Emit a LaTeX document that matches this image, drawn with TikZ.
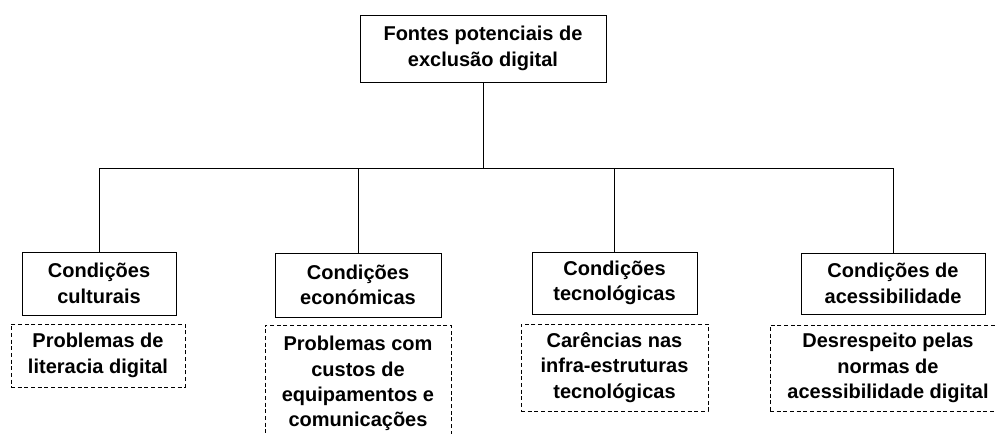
\documentclass[tikz,border=0pt]{standalone}
\usepackage{fontspec}
\setmainfont{Liberation Sans}
\begin{document}
\begin{tikzpicture}[x=0.75pt,y=-0.75pt,
  caixa/.style={draw, line width=0.75pt, align=center, inner sep=0pt,
    font=\bfseries\fontsize{15}{19}\selectfont},
  tracejada/.style={caixa, dash pattern=on 3pt off 2pt}]
  \useasboundingbox (0,0) rectangle (996,433);

  % Topo
  \node[caixa, minimum width=184.5pt, minimum height=50.25pt] (fontes) at (483,48.5)
    {Fontes potenciais de\\exclusão digital};

  % Condições
  \node[caixa, minimum width=115.5pt, minimum height=47.25pt] (cult) at (99,283.5)
    {Condições\\culturais};
  \node[caixa, minimum width=124.5pt, minimum height=48pt] (econ) at (358,285)
    {Condições\\económicas};
  \node[caixa, minimum width=123.75pt, minimum height=46.5pt] (tecn) at (614.5,283)
    {Condições\\tecnológicas};
  \node[caixa, minimum width=138pt, minimum height=45.75pt] (aces) at (893,283.5)
    {Condições de\\acessibilidade};

  % Problemas
  \node[tracejada, minimum width=130.5pt, minimum height=47.25pt] (pcult) at (98,355.5)
    {Problemas de\\literacia digital};
  \node[tracejada, minimum width=139.5pt, minimum height=87.75pt] (pecon) at (358,383.5)
    {Problemas com\\custos de\\equipamentos e\\comunicações};
  \node[tracejada, minimum width=140.25pt, minimum height=65.25pt] (ptecn) at (614.5,367.5)
    {Carências nas\\infra-estruturas\\tecnológicas};
  \node[tracejada, minimum width=177pt, minimum height=64.5pt] (paces) at (888,368)
    {Desrespeito pelas\\normas de\\acessibilidade digital};

  % Ligações
  \coordinate (barra) at (483,168);
  \draw[line width=0.75pt] (fontes.south) -- (barra);
  \foreach \c in {cult,econ,tecn,aces}
    \draw[line width=0.75pt] (barra) -| (\c.north);
\end{tikzpicture}
\end{document}
